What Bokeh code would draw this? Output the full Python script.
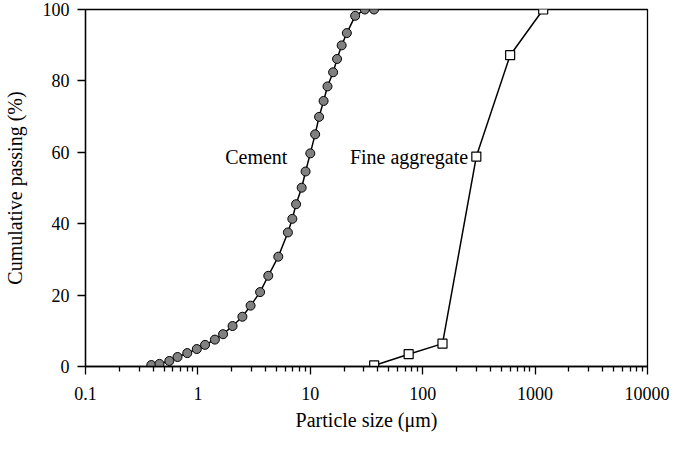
from bokeh.plotting import figure
from bokeh.models import FixedTicker, CustomJSTickFormatter, Label
from bokeh.embed import file_html
from bokeh.resources import INLINE

cement_size = [0.385, 0.455, 0.557, 0.659, 0.804, 0.978, 1.158, 1.416, 1.674, 2.035,
               2.488, 2.942, 3.575, 4.227, 5.19, 6.32, 6.92, 7.47, 8.38, 9.08,
               10.0, 11.04, 11.97, 13.13, 14.22, 15.96, 17.3, 19.01, 21.14, 25.07,
               30.55, 36.9]
cement_pass = [0.41, 0.73, 1.55, 2.66, 3.75, 4.89, 6.06, 7.53, 9.05, 11.33,
               13.94, 17.04, 20.84, 25.41, 30.76, 37.55, 41.36, 45.46, 50.08, 54.62,
               59.7, 65.03, 69.92, 74.38, 78.45, 82.42, 86.14, 89.95, 93.4, 98.23,
               100.0, 100.0]

fine_size = [37, 75, 150, 300, 600, 1180]
fine_pass = [0.3, 3.45, 6.4, 58.8, 87.2, 100.0]

x_major = [0.1, 1, 10, 100, 1000, 10000]
x_minor = [m * d for d in [0.1, 1, 10, 100, 1000] for m in range(2, 10)]
y_major = [0, 20, 40, 60, 80, 100]

FONT = "Liberation Serif"

p = figure(width=669, height=433, x_axis_type="log", x_range=(0.1, 10000), y_range=(0, 100),
           output_backend="svg", toolbar_location=None,
           min_border_left=82, min_border_right=22, min_border_top=9, min_border_bottom=56)
p.grid.visible = False
p.background_fill_color = "white"
p.border_fill_color = "white"
p.outline_line_color = "black"
p.outline_line_width = 1.3

p.xaxis.ticker = FixedTicker(ticks=x_major, minor_ticks=x_minor)
p.xaxis.formatter = CustomJSTickFormatter(code="return tick.toString()")
p.yaxis.ticker = FixedTicker(ticks=y_major)

for ax in (p.xaxis, p.yaxis):
    ax.axis_line_color = "black"
    ax.axis_line_width = 1.3
    ax.major_tick_line_color = "black"
    ax.major_tick_line_width = 1.3
    ax.minor_tick_line_color = "black"
    ax.minor_tick_line_width = 1.3
    ax.major_tick_in = 0
    ax.major_tick_out = 8
    ax.minor_tick_in = 0
    ax.minor_tick_out = 5
    ax.major_label_text_font = FONT
    ax.major_label_text_font_size = "18px"
    ax.major_label_text_color = "black"
    ax.axis_label_text_font = FONT
    ax.axis_label_text_font_size = "20px"
    ax.axis_label_text_font_style = "normal"
    ax.axis_label_text_color = "black"

p.yaxis.minor_tick_out = 0
p.xaxis.axis_label = "Particle size (\u03bcm)"
p.yaxis.axis_label = "Cumulative passing (%)"
p.xaxis.major_label_standoff = 12
p.yaxis.major_label_standoff = 8
p.xaxis.axis_label_standoff = 6
p.yaxis.axis_label_standoff = 14

p.line(cement_size, cement_pass, line_color="black", line_width=1.5)
p.scatter(cement_size, cement_pass, marker="circle", size=9, fill_color="#808080",
          line_color="black", line_width=1)

p.line(fine_size, fine_pass, line_color="black", line_width=1.5)
p.scatter(fine_size, fine_pass, marker="square", size=9, fill_color="white",
          line_color="black", line_width=1.2)

p.add_layout(Label(x=1.75, y=58.7, text="Cement", text_font=FONT, text_font_size="20px",
                   text_baseline="middle", text_align="left", text_color="black"))
p.add_layout(Label(x=22.5, y=58.7, text="Fine aggregate", text_font=FONT, text_font_size="20px",
                   text_baseline="middle", text_align="left", text_color="black"))

open("out.html", "w").write(file_html(p, INLINE))
